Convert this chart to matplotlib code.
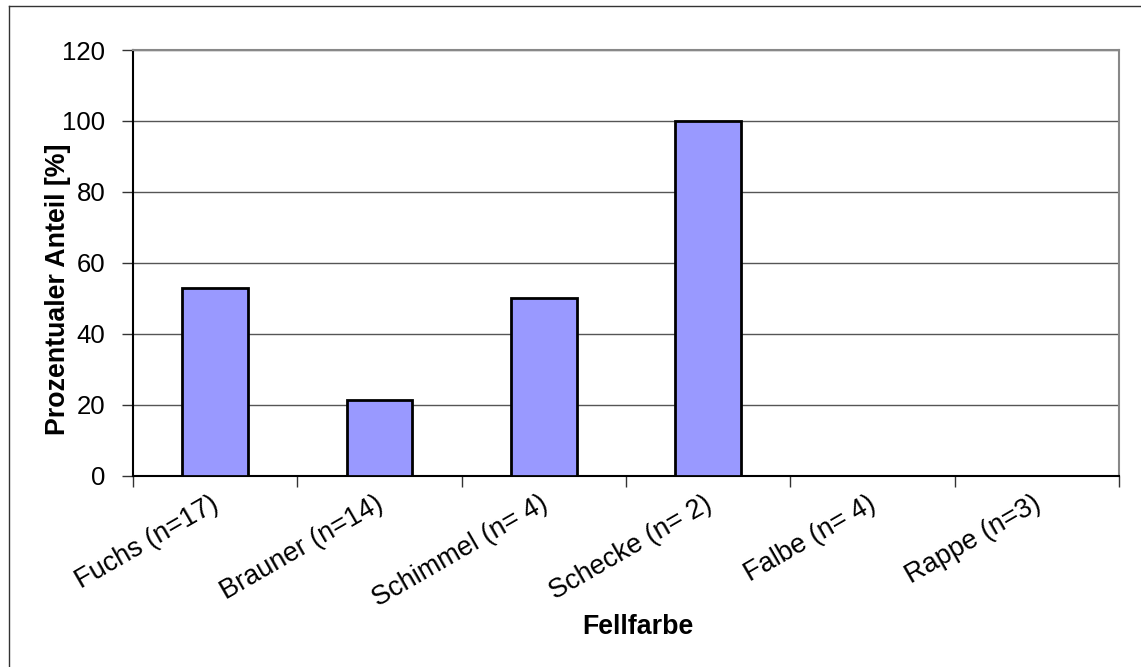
import matplotlib
matplotlib.use("Agg")
import matplotlib.pyplot as plt
from matplotlib.lines import Line2D

categories = ["Fuchs (n=17)", "Brauner (n=14)", "Schimmel (n= 4)",
              "Schecke (n= 2)", "Falbe (n= 4)", "Rappe (n=3)"]
shares = [52.9, 21.4, 50.0, 100.0, 0.0, 0.0]
yticks = [0, 20, 40, 60, 80, 100, 120]

plt.rcParams["font.family"] = ["Liberation Sans", "DejaVu Sans"]

W, H = 1141, 667
fig = plt.figure(figsize=(W / 100, H / 100), dpi=100)
ax = fig.add_axes([133 / W, 1 - 475.5 / H, (1119 - 133) / W, (475.5 - 50) / H])

x = list(range(len(categories)))
ax.bar(x, shares, width=0.4, color="#9999ff", edgecolor="black",
       linewidth=2, zorder=3)

ax.set_xlim(-0.5, len(categories) - 0.5)
ax.set_ylim(0, 120)
ax.set_yticks(yticks)
ax.set_yticklabels([str(v) for v in yticks], fontsize=18.5)
ax.yaxis.grid(True, color="#555555", linewidth=1, zorder=0)

# category boundaries carry the x ticks; labels sit under each category centre
ax.set_xticks([i - 0.5 for i in range(len(categories) + 1)])
ax.set_xticklabels([])
ax.tick_params(axis="x", length=8, width=1, color="#333333", direction="out")
ax.tick_params(axis="y", length=8, width=1, color="#333333", direction="out",
               pad=12)
for i, name in enumerate(categories):
    ax.text(i + 0.01, -7.5, name, rotation=30, rotation_mode="anchor",
            ha="right", va="center", fontsize=19.5,
            transform=ax.transData, clip_on=False)

for side in ("left", "bottom"):
    ax.spines[side].set_color("black")
    ax.spines[side].set_linewidth(1.5)
for side in ("right", "top"):
    ax.spines[side].set_color("#888888")
    ax.spines[side].set_linewidth(1.5)

fig.text(58 / W, 1 - 289 / H, "Prozentualer Anteil [%]", fontsize=19.3,
         fontweight="bold", rotation=90, ha="center", va="center")
fig.text(638 / W, 1 - 627 / H, "Fellfarbe", fontsize=19.3, fontweight="bold",
         ha="center", va="center")

# chart-area frame (left and top edges)
fig.add_artist(Line2D([9 / W, 9 / W], [0, 1 - 6 / H], transform=fig.transFigure,
                      color="#333333", linewidth=1))
fig.add_artist(Line2D([9 / W, 1], [1 - 6 / H, 1 - 6 / H], transform=fig.transFigure,
                      color="#333333", linewidth=1))

fig.savefig("out.png", dpi=100)
